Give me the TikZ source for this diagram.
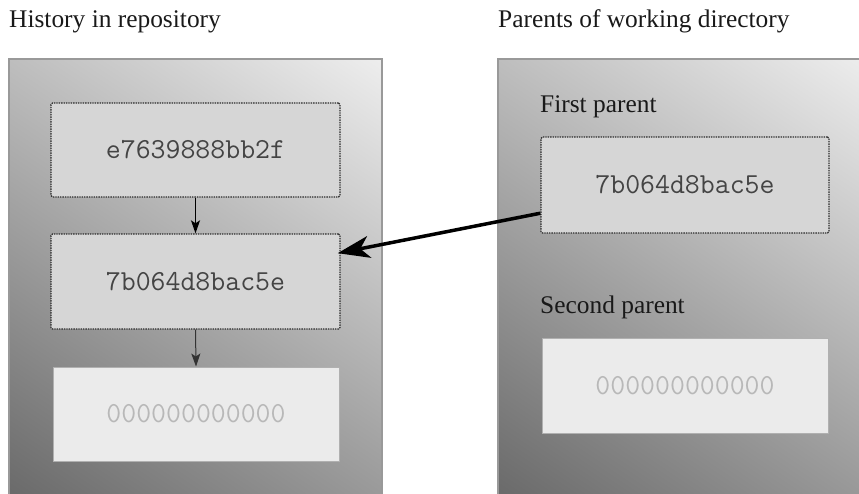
\documentclass[tikz,border=0pt]{standalone}
\usepackage{fontspec}
\setmainfont{Liberation Serif}
\usetikzlibrary{arrows.meta,calc}
\definecolor{panellight}{HTML}{EEEEEE}
\definecolor{paneldark}{HTML}{6A6A6A}
\definecolor{panelborder}{HTML}{999999}
\definecolor{commitfill}{HTML}{D6D6D6}
\definecolor{dotborder}{HTML}{2A2A2A}
\definecolor{hashtxt}{HTML}{444444}
\definecolor{nullfill}{HTML}{EBEBEB}
\definecolor{nullborder}{HTML}{B0B0B0}
\definecolor{nulltxt}{HTML}{B8B8B8}
\begin{document}
\begin{tikzpicture}[x=1pt,y=-1pt,
  panelshade/.style={top color=panellight, bottom color=paneldark, shading angle=-33.8},
  panelframe/.style={draw=panelborder, line width=1.5pt},
  commit/.style={draw=dotborder, fill=commitfill, line width=1.3pt, dash pattern=on 1.4pt off 1pt,
    rounded corners=1.5pt, inner sep=0pt, font=\fontsize{29}{30}\selectfont\ttfamily, text=hashtxt},
  nullbox/.style={draw=nullborder, fill=nullfill, line width=1pt, inner sep=0pt,
    font=\fontsize{29}{30}\selectfont\ttfamily, text=nulltxt},
  title/.style={font=\fontsize{25.4}{28}\selectfont, anchor=base west, inner sep=0pt, text=black!90},
  smallarrow/.style={-{Stealth[length=13pt,width=9pt,inset=3pt]}, line width=1.6pt},
  bigarrow/.style={-{Stealth[length=32pt,width=22pt,inset=9pt]}, line width=3.5pt, shorten >=-3pt}]
\useasboundingbox (0,0) rectangle (859,493);
\clip (0,0) rectangle (859,493);
% left panel
\begin{scope}
  \clip (9,59) rectangle (382,510);
  \shade[panelshade] (195.5-287,276-287) rectangle (195.5+287,276+287);
\end{scope}
\draw[panelframe] (9,59) rectangle (382,510);
% right panel
\begin{scope}
  \clip (498,59) rectangle (871,510);
  \shade[panelshade] (684.5-287,276-287) rectangle (684.5+287,276+287);
\end{scope}
\draw[panelframe] (498,59) rectangle (871,510);
% titles
\node[title] (t1) at (9,27) {History in repository};
\node[title] (t2) at (498,27) {Parents of working directory};
\node[title] (fp) at (540,112) {First parent};
\node[title] (sp) at (540,313) {Second parent};
% commits
\node[commit, minimum width=289pt, minimum height=94pt] (b1) at (195.5,150) {e7639888bb2f};
\node[commit, minimum width=289pt, minimum height=95pt] (b2) at (195.5,281.5) {7b064d8bac5e};
\node[nullbox, minimum width=286pt, minimum height=94pt] (b3) at (196,414) {000000000000};
\node[commit, minimum width=288pt, minimum height=96pt] (b4) at (685,185) {7b064d8bac5e};
\node[nullbox, minimum width=286pt, minimum height=95pt] (b5) at (685,385.5) {000000000000};
% arrows
\draw[smallarrow] (b1.south) -- (b2.north);
\draw[smallarrow, line width=1pt, draw=black!80] (b2.south) -- (b3.north);
\draw[bigarrow] ($(b4.north west)!0.79!(b4.south west)$) -- ($(b2.north east)!0.2!(b2.south east)$);
\end{tikzpicture}
\end{document}
